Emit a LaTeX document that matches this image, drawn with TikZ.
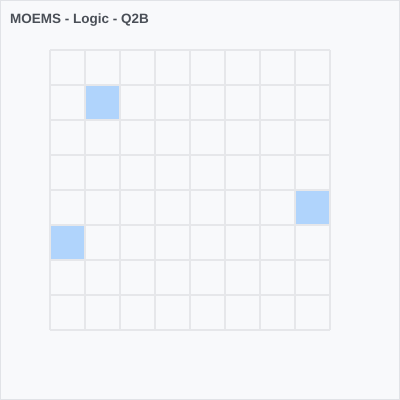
\documentclass[tikz,border=0pt]{standalone}
\usepackage{fontspec}
\setmainfont{Liberation Sans}
\usetikzlibrary{positioning}
\definecolor{panelbg}{HTML}{F8F9FB}
\definecolor{panelline}{HTML}{E1E3E7}
\definecolor{gridgray}{HTML}{E6E7EA}
\definecolor{cellblue}{HTML}{B0D4FC}
\definecolor{titlegray}{HTML}{4A4F57}
\tikzset{
    shaded/.style={fill=cellblue, draw=none, minimum size=33pt, inner sep=0pt},
}

\begin{document}
\begin{tikzpicture}[x=1pt,y=-1pt]
                        \useasboundingbox (0,0) rectangle (400,400);
                        \draw[panelline, fill=panelbg] (0.5,0.5) rectangle (399.5,399.5);
                        \node[anchor=base west, inner sep=0pt, text=titlegray,
                              font=\bfseries\fontsize{13.5}{16}\selectfont] (title) at (10,23.5) {MOEMS - Logic - Q2B};
                        % grid
                        \foreach \i in {0,...,8}
                            \draw[gridgray, line width=2pt]
                            (50+35*\i, 50) -- (50+35*\i, 330)
                            (50, 50+35*\i) -- (330, 50+35*\i);
                        % marked cells
                        \node[shaded] (b2) at (102.5,102.5) {};
                        \node[shaded] (h5) at (312.5,207.5) {};
                        \node[shaded] (a6) at (67.5,242.5) {};
                    \end{tikzpicture}
\end{document}
